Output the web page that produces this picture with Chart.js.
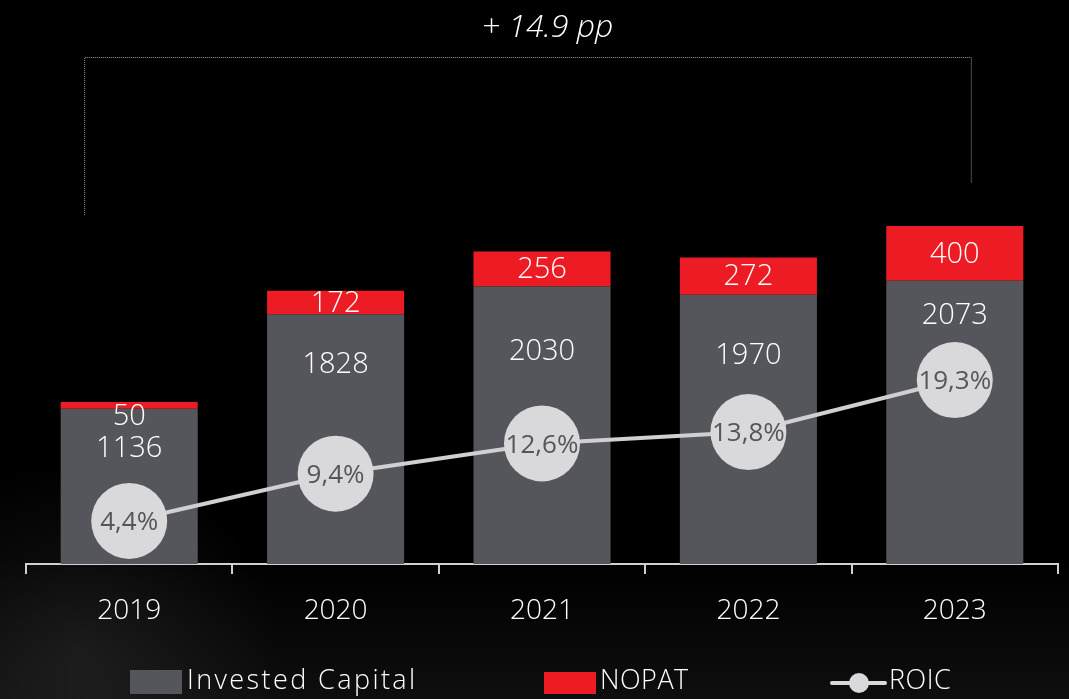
<!DOCTYPE html>
<html><head><meta charset="utf-8">
<script src="https://cdn.jsdelivr.net/npm/chart.js@4/dist/chart.umd.min.js"></script>
<style>
html,body{margin:0;padding:0;background:#000;}
#wrap{position:relative;width:1069px;height:699px;background:#000;}
canvas{display:block;}
</style></head>
<body><div id="wrap"><canvas id="c" width="1069" height="699"></canvas></div>
<script>
const years = ['2019','2020','2021','2022','2023'];
const investedCapital = [1136, 1828, 2030, 1970, 2073];
const nopat = [50, 172, 256, 272, 400];
const roic = [4.4, 9.4, 12.6, 13.8, 19.3];
const roicLabels = ['4,4%','9,4%','12,6%','13,8%','19,3%'];
const changeLabel = '+ 14.9 pp';

const FONT = '"Open Sans", Lato, sans-serif';
const W = '300 ';
const GREY = '#55565b', RED = '#ed1c24', CIRCLE = '#d9d9db';

// label offsets (px below top of invested-capital segment)
const icLabelOffset = [40, 51, 65, 61, 35];

const bgPlugin = {
  id: 'bg',
  beforeDraw(chart){
    const ctx = chart.ctx, w = chart.width, h = chart.height;
    ctx.save();
    ctx.fillStyle = '#000'; ctx.fillRect(0,0,w,h);
    const g = ctx.createLinearGradient(0, 560, 0, h);
    g.addColorStop(0,'rgba(28,28,28,0)');
    g.addColorStop(1,'rgba(28,28,28,0.5)');
    ctx.fillStyle = g; ctx.fillRect(0,560,w,h-560);
    const r = ctx.createRadialGradient(80, 660, 10, 80, 660, 200);
    r.addColorStop(0,'rgba(60,60,60,0.35)');
    r.addColorStop(1,'rgba(60,60,60,0)');
    ctx.fillStyle = r; ctx.fillRect(0,450,450,h-450);
    ctx.restore();
  }
};

const labelPlugin = {
  id: 'labels',
  afterDatasetsDraw(chart){
    const ctx = chart.ctx;
    const icMeta = chart.getDatasetMeta(0), npMeta = chart.getDatasetMeta(1), lnMeta = chart.getDatasetMeta(2);
    ctx.save();
    ctx.textAlign = 'center'; ctx.textBaseline = 'middle';
    ctx.fillStyle = '#fff';
    ctx.font = W + '29px ' + FONT;
    icMeta.data.forEach((b,i)=>{
      ctx.fillText(String(investedCapital[i]), b.x, b.y + icLabelOffset[i]);
    });
    npMeta.data.forEach((b,i)=>{
      const h = b.base - b.y;
      let y = (b.y + b.base)/2 + 1;
      if (h < 15) y = b.base + 8;
      ctx.fillText(String(nopat[i]), b.x, y);
    });
    ctx.fillStyle = '#55565b';
    ctx.font = '400 26px ' + FONT;
    lnMeta.data.forEach((p,i)=>{
      ctx.fillText(roicLabels[i], p.x, p.y + 2);
    });
    // bracket
    const x0 = icMeta.data[0].x - 45, x1 = icMeta.data[4].x + 16;
    ctx.strokeStyle = '#9a9a9a'; ctx.lineWidth = 1; ctx.setLineDash([1,1]);
    ctx.beginPath();
    ctx.moveTo(x0+0.5, 215); ctx.lineTo(x0+0.5, 57.5); ctx.lineTo(x1+0.5, 57.5); ctx.lineTo(x1+0.5, 183);
    ctx.stroke();
    ctx.setLineDash([]);
    ctx.fillStyle = '#fff';
    ctx.font = 'italic ' + W + '32px ' + FONT;
    ctx.fillText(changeLabel, (x0+x1)/2 + 20, 28);
    // legend
    const ly = 681;
    ctx.font = W + '27px ' + FONT;
    ctx.textAlign = 'left';
    ctx.fillStyle = GREY; ctx.fillRect(130, 670, 52, 24);
    ctx.fillStyle = '#fff';
    ctx.letterSpacing = '2.4px';
    ctx.fillText(chart.data.datasets[0].label, 187, ly);
    ctx.letterSpacing = '0.5px';
    ctx.fillStyle = RED; ctx.fillRect(544, 672, 52, 22);
    ctx.fillStyle = '#fff'; ctx.fillText(chart.data.datasets[1].label, 600, ly);
    ctx.strokeStyle = CIRCLE; ctx.lineWidth = 4; ctx.lineCap = 'round';
    ctx.beginPath(); ctx.moveTo(832, 683); ctx.lineTo(852, 683); ctx.moveTo(868, 683); ctx.lineTo(885, 683); ctx.stroke();
    ctx.fillStyle = CIRCLE; ctx.beginPath(); ctx.arc(859, 683, 10, 0, Math.PI*2); ctx.fill();
    ctx.fillStyle = '#fff'; ctx.fillText(chart.data.datasets[2].label, 889, ly);
    ctx.restore();
  }
};

new Chart(document.getElementById('c'), {
  data: {
    labels: years,
    datasets: [
      { type:'bar', label:'Invested Capital', data: investedCapital, backgroundColor: GREY, yAxisID:'y', stack:'s', order:2,
        categoryPercentage:1, barPercentage:0.664, borderWidth:0 },
      { type:'bar', label:'NOPAT', data: nopat, backgroundColor: RED, yAxisID:'y', stack:'s', order:2,
        categoryPercentage:1, barPercentage:0.664, borderWidth:0 },
      { type:'line', label:'ROIC', data: roic, yAxisID:'y2', order:0, borderColor:'#d0d0d2', borderWidth:4,
        pointRadius:38, pointHoverRadius:38, pointBackgroundColor: CIRCLE, pointBorderWidth:0, tension:0, clip:false }
    ]
  },
  options: {
    responsive:false, animation:false, devicePixelRatio:1,
    layout:{ autoPadding:false, padding:{ left:26, right:11, top:154, bottom:0 } },
    plugins:{ legend:{display:false}, tooltip:{enabled:false} },
    scales:{
      x:{ stacked:true, offset:true,
        grid:{ display:true, offset:true, drawOnChartArea:false, drawTicks:true, tickLength:10, color:'#d0d0d0', lineWidth:2 },
        border:{ display:true, color:'#d0d0d0', width:2 },
        ticks:{ color:'#fff', font:{ family:FONT, size:28, weight:'300' }, padding:20 },
        afterFit(s){ s.height = 135; }
      },
      y:{ stacked:true, display:false, min:0, max:3000 },
      y2:{ display:false, min:-0.15, max:43.2, position:'right' }
    }
  },
  plugins:[bgPlugin, labelPlugin]
});
</script></body></html>
